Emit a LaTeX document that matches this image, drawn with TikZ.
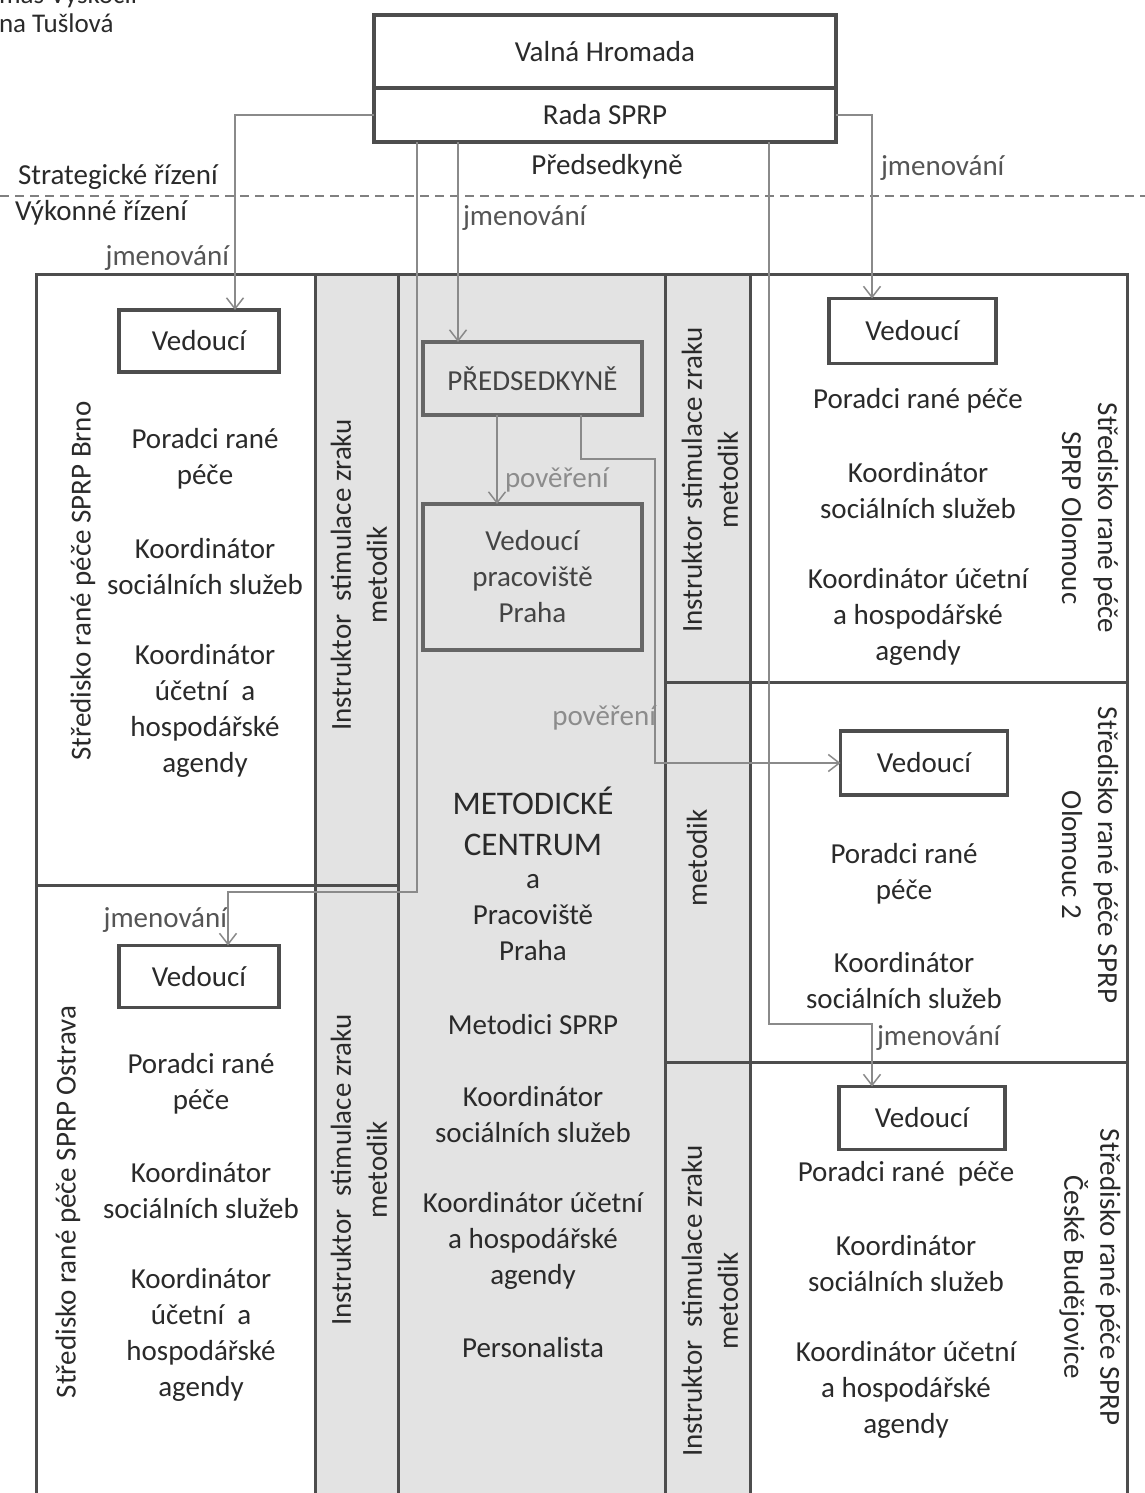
\documentclass[tikz,border=0pt]{standalone}
\usepackage{fontspec}
\setmainfont{Carlito}
\usetikzlibrary{arrows.meta}
\definecolor{txt}{HTML}{2A2A2A}
\definecolor{txtb}{HTML}{444444}
\definecolor{frame}{HTML}{4D4D4D}
\definecolor{frameb}{HTML}{666666}
\definecolor{connc}{HTML}{8A8A8A}
\definecolor{fillg}{HTML}{E3E3E3}
\definecolor{lbl}{HTML}{555555}
\definecolor{lbltwo}{HTML}{8C8C8C}
\definecolor{dashc}{HTML}{808080}
\begin{document}
\begin{tikzpicture}[x=1pt,y=-1pt,
  every node/.style={inner sep=0pt, outer sep=0pt, text=txt, font=\fontsize{29}{36}\selectfont, align=center},
  frm/.style={draw=frame, line width=3pt},
  topbox/.style={draw=frame, line width=3.5pt, fill=white, minimum width=462pt},
  vbox/.style={draw=frame, line width=3.5pt, fill=white, minimum width=160pt, minimum height=62pt},
  pbox/.style={draw=frameb, line width=4pt, minimum width=219pt, text=txtb},
  conn/.style={draw=connc, line width=1.5pt, -{Straight Barb[length=11pt,width=17pt]}},
  lab/.style={text=lbl},
  labtwo/.style={text=lbltwo},
  big/.style={font=\fontsize{33}{41}\selectfont},
  auth/.style={font=\fontsize{27}{30}\selectfont, anchor=base west},
  sepline/.style={draw=dashc, line width=2pt, dash pattern=on 9pt off 6pt}]

\useasboundingbox (0,0) rectangle (1145,1493);
\clip (0,0) rectangle (1145,1493);
\fill[white] (0,0) rectangle (1145,1493);

% gray columns
\fill[fillg] (315,274) rectangle (750,1510);

% frame
\draw[frm] (36,1510) -- (36,274) -- (1127,274) -- (1127,1510);
\draw[frm] (315,274) -- (315,1510);
\draw[frm] (398,274) -- (398,1510);
\draw[frm] (665,274) -- (665,1510);
\draw[frm] (750,274) -- (750,1510);
\draw[frm] (36,885) -- (398,885);
\draw[frm] (665,682) -- (1127,682);
\draw[frm] (665,1062) -- (1127,1062);

% dashed separator
\draw[sepline] (0,196) -- (1145,196);

% authors (cut off by the page edge, as in the reference)
\node[auth] (au1) at (-1,4) {mas Výskočil};
\node[auth] (au2) at (-1,33) {na Tušlová};

% top boxes
\node[topbox, minimum height=73pt] (vh) at (605,51.5) {Valná Hromada};
\node[topbox, minimum height=54pt] (rada) at (605,115) {Rada SPRP};

\node (predtxt) at (607,167) {Předsedkyně};
\node[anchor=west] (strat) at (18,177) {Strategické řízení};
\node[anchor=west] (vyk) at (15,213) {Výkonné řízení};

% Vedouci boxes
\node[vbox] (vBr) at (199,341) {Vedoucí};
\node[vbox, minimum width=167pt, minimum height=65pt] (vOl) at (912.5,331) {Vedoucí};
\node[vbox, minimum width=167pt, minimum height=64pt] (vOl2) at (924,763) {Vedoucí};
\node[vbox] (vOst) at (199,976.5) {Vedoucí};
\node[vbox, minimum width=166pt, minimum height=63pt] (vCB) at (922,1118) {Vedoucí};

% middle boxes
\node[pbox, minimum height=73pt] (pred) at (532.5,378.5) {PŘEDSEDKYNĚ};
\node[pbox, minimum height=146pt] (vPr) at (532.5,577) {Vedoucí\\pracoviště\\Praha};

% Brno
\node[rotate=90] (brT) at (83,581) {Středisko rané péče SPRP Brno};
\node (br1) at (205,459) {Poradci rané\\péče};
\node (br2) at (205,567) {Koordinátor\\sociálních služeb};
\node (br3) at (205,711) {Koordinátor\\účetní\ \ a\\hospodářské\\agendy};

% Ostrava
\node[rotate=90] (osT) at (68,1202) {Středisko rané péče SPRP Ostrava};
\node (os1) at (201,1084) {Poradci rané\\péče};
\node (os2) at (201,1191) {Koordinátor\\sociálních služeb};
\node (os3) at (201,1335) {Koordinátor\\účetní\ \ a\\hospodářské\\agendy};

% gray column texts
\node[rotate=90] (g1) at (359,575) {Instruktor\ \ stimulace zraku\\metodik};
\node[rotate=90] (g2) at (359,1170) {Instruktor\ \ stimulace zraku\\metodik};
\node[rotate=90] (g3) at (710,480) {Instruktor stimulace zraku\\metodik};
\node[rotate=90] (g4) at (697,858) {metodik};
\node[rotate=90] (g5) at (710,1301) {Instruktor\ \ stimulace zraku\\metodik};

% middle column
\node[big] (mc1) at (533,821) {METODICKÉ\\CENTRUM};
\node (mc2) at (533,918) {a\\Pracoviště\\Praha};
\node (mc3) at (533,1025) {Metodici SPRP};
\node (mc4) at (533,1115) {Koordinátor\\sociálních služeb};
\node (mc5) at (533,1241) {Koordinátor účetní\\a hospodářské\\agendy};
\node (mc6) at (533,1348) {Personalista};

% Olomouc
\node[rotate=-90] (olT) at (1090,518) {Středisko rané péče\\SPRP Olomouc};
\node (ol1) at (918,401) {Poradci rané péče};
\node (ol2) at (918,491) {Koordinátor\\sociálních služeb};
\node (ol3) at (918,617) {Koordinátor účetní\\a hospodářské\\agendy};

% Olomouc 2
\node[rotate=-90] (o2T) at (1090,855) {Středisko rané péče SPRP\\Olomouc 2};
\node (o21) at (904,874) {Poradci rané\\péče};
\node (o22) at (904,981) {Koordinátor\\sociálních služeb};

% Ceske Budejovice
\node[rotate=-90] (cbT) at (1090,1277) {Středisko rané péče SPRP\\České Budějovice};
\node (cb1) at (906,1174) {Poradci rané\ \ péče};
\node (cb2) at (906,1264) {Koordinátor\\sociálních služeb};
\node (cb3) at (906,1390) {Koordinátor účetní\\a hospodářské\\agendy};

% connector labels
\node[lab, anchor=east] (jm1) at (229,258) {jmenování};
\node[lab, anchor=west] (jm2) at (463,218) {jmenování};
\node[lab, anchor=west] (jm3) at (881,168) {jmenování};
\node[lab, anchor=east] (jm4) at (227,920) {jmenování};
\node[lab, anchor=west] (jm5) at (877,1038) {jmenování};
\node[labtwo, anchor=west] (pov1) at (505,480) {pověření};
\node[labtwo, anchor=east] (pov2) at (656,718) {pověření};

% connectors
\coordinate (bOst) at (228,892);
\coordinate (bCB) at (872,1024);
\coordinate (bP) at (655,459);
\draw[conn] (rada.west) -| ([xshift=36pt]vBr.north);
\draw[conn] (rada.east) -| ([xshift=-40.5pt]vOl.north);
\draw[conn] ([xshift=-147pt]rada.south) -- ([xshift=-74.5pt]pred.north);
\draw[conn] ([xshift=-188pt]rada.south) |- (bOst) -- (bOst |- vOst.north);
\draw[conn] ([xshift=164pt]rada.south) |- (bCB) -- (bCB |- vCB.north);
\draw[conn] ([xshift=-35.5pt]pred.south) -- ([xshift=-35.5pt]vPr.north);
\draw[conn] ([xshift=48.5pt]pred.south) |- (bP) |- (vOl2.west);
\end{tikzpicture}
\end{document}
